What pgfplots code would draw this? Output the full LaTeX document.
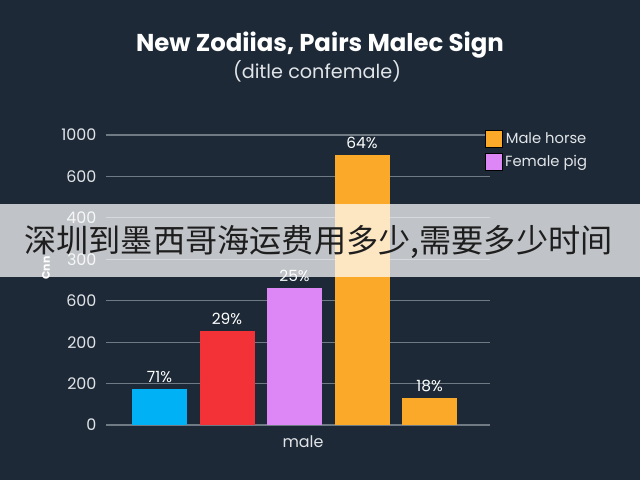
\documentclass[border=0pt]{standalone}
\usepackage{pgfplots}
\pgfplotsset{compat=1.18}
\usepackage{fontspec}
\setmainfont{Poppins}
\newfontfamily\cjk{Noto Sans CJK SC}

\definecolor{bgc}{RGB}{29,41,54}
\definecolor{gridc}{RGB}{112,122,132}
\definecolor{tickc}{RGB}{225,228,232}
\definecolor{cblue}{RGB}{0,178,245}
\definecolor{cred}{RGB}{242,50,55}
\definecolor{cpurple}{RGB}{220,135,245}
\definecolor{corange}{RGB}{250,170,40}

\begin{document}
\begin{tikzpicture}
\fill[bgc] (0,0) rectangle (640bp,480bp);

\begin{axis}[
    at={(106bp,55bp)}, anchor=south west,
    scale only axis, width=384bp, height=290bp,
    xmin=-0.793, xmax=4.896,
    ymin=0, ymax=7,
    ytick={0,1,2,3,4,5,6,7},
    yticklabels={0,200,200,600,300,400,600,1000},
    xtick={2.126}, xticklabels={male},
    axis line style={draw=none},
    major tick length=0pt,
    ymajorgrids=true,
    grid style={gridc, line width=1.2pt},
    ticklabel style={text=tickc, font=\fontsize{16}{18}\selectfont},
    yticklabel style={xshift=-6bp},
    xticklabel style={yshift=-7bp},
    /pgf/number format/assume math mode=true,
    ybar, bar width=0.815, bar shift=0pt,
    nodes near coords,
    point meta=explicit symbolic,
    every node near coord/.append style={text=white, font=\fontsize{15.5}{18}\selectfont, yshift=3bp},
    legend image code/.code={\fill[#1] (0bp,-8.5bp) rectangle (17bp,8.5bp);},
    legend style={at={(0.987,1.017)}, anchor=north west, draw=none, fill=none,
        text=tickc, font=\fontsize{14.8}{17}\selectfont, inner sep=0pt,
        row sep=5bp, nodes={inner sep=2.5bp}},
]
\addlegendimage{fill=corange}
\addlegendentry{Male horse}
\addlegendimage{fill=cpurple}
\addlegendentry{Female pig}

\addplot[fill=cblue, draw=none, forget plot] coordinates {(0,0.87) [71\%]};
\addplot[fill=cred, draw=none, forget plot] coordinates {(1,2.27) [29\%]};
\addplot[fill=cpurple, draw=none, forget plot] coordinates {(2,3.31) [25\%]};
\addplot[fill=corange, draw=none, forget plot] coordinates {(3,6.52) [64\%]};
\addplot[fill=corange, draw=none, forget plot] coordinates {(4,0.65) [18\%]};
\end{axis}

\node[text=white, font=\bfseries\fontsize{24.5}{28}\selectfont] at (320bp,435bp) {New Zodiias, Pairs Malec Sign};
\node[text=tickc, font=\fontsize{19.3}{22}\selectfont] at (317bp,409bp) {(ditle confemale)};
\node[text=white, rotate=90, font=\bfseries\fontsize{11}{13}\selectfont] at (46bp,212bp) {Cnn};

\fill[white, opacity=0.72] (0,203bp) rectangle (640bp,276bp);
\node[text={rgb,255:red,30;green,30;blue,30}, font=\cjk\fontsize{32.3}{36}\selectfont] at (318.5bp,238bp) {深圳到墨西哥海运费用多少,需要多少时间};

\pgfresetboundingbox
\path (0,0) rectangle (640bp,480bp);
\end{tikzpicture}
\end{document}
